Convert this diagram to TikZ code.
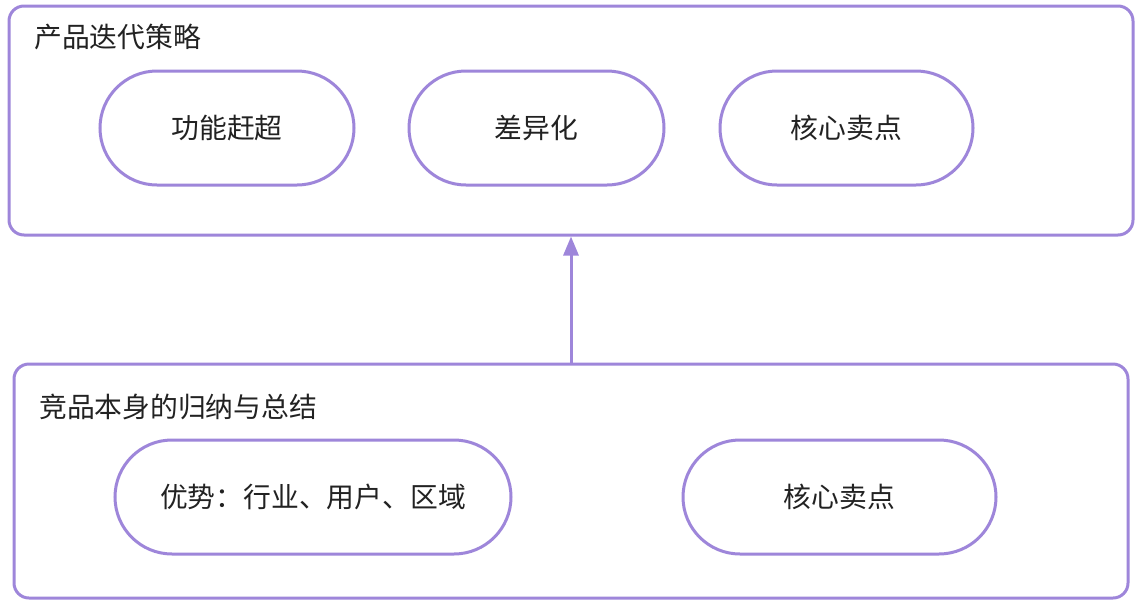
\documentclass[tikz,border=0pt]{standalone}
\usepackage{fontspec}
\setmainfont{Noto Sans CJK SC}
\usetikzlibrary{arrows.meta}
\definecolor{lav}{HTML}{9E86DA}
\definecolor{ink}{HTML}{222222}
\tikzset{
  frame/.style={draw=lav, line width=3pt, rounded corners=15pt, fill=white},
  pill/.style={draw=lav, line width=3pt, rounded corners=57pt, fill=white,
    minimum height=114pt, inner sep=0pt, text=ink,
    font=\fontsize{27.8}{32}\selectfont},
  heading/.style={anchor=west, inner sep=0pt, text=ink,
    font=\fontsize{27.8}{32}\selectfont},
  link/.style={draw=lav, line width=3pt, -{Triangle[length=19pt,width=15pt]}}
}
\begin{document}
\begin{tikzpicture}[x=1pt,y=-1pt]
  \useasboundingbox (0,0) rectangle (1146,603);
  % upper group
  \node[frame, minimum width=1124pt, minimum height=229pt] (top) at (571,120.5) {};
  \node[heading] (toptitle) at (34,37) {产品迭代策略};
  \node[pill, minimum width=254pt] (p1) at (227,128) {功能赶超};
  \node[pill, minimum width=255pt] (p2) at (536.5,128) {差异化};
  \node[pill, minimum width=253pt] (p3) at (846.5,128) {核心卖点};
  % lower group
  \node[frame, minimum width=1114pt, minimum height=234pt] (bot) at (571,481) {};
  \node[heading] (bottitle) at (39,407) {竞品本身的归纳与总结};
  \node[pill, minimum width=396pt] (q1) at (313,497) {优势：行业、用户、区域};
  \node[pill, minimum width=313pt] (q2) at (839.5,497) {核心卖点};
  % connector
  \draw[link] (bot.north) -- (top.south);
\end{tikzpicture}
\end{document}
